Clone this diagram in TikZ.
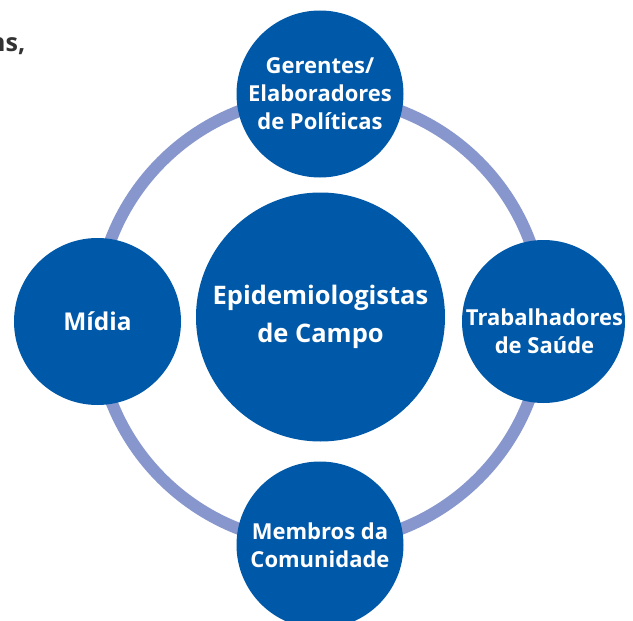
\documentclass[tikz,border=0pt]{standalone}
\usepackage{fontspec}
\setmainfont{Open Sans}
\definecolor{dblue}{HTML}{0058A8}
\definecolor{ring}{HTML}{8796CD}
\definecolor{txtgray}{HTML}{333333}
\begin{document}
\begin{tikzpicture}[x=1pt,y=-1pt,
  outer/.style={circle,fill=dblue,minimum size=167pt,inner sep=0pt,text=white,align=center,font=\bfseries\fontsize{22}{28}\selectfont},
  center/.style={circle,fill=dblue,minimum size=249pt,inner sep=0pt,text=white,align=center,font=\bfseries\fontsize{25.5}{38}\selectfont}]
\useasboundingbox (0,0) rectangle (633,621);
\coordinate (o) at (320,320);
\draw[ring,line width=12pt] (o) circle (224);
\node[center] (c) at (320.5,317) {Epidemiologistas\\de Campo};
\node[outer] (top) at (320,94) {Gerentes/\\Elaboradores\\de Políticas};
\node[outer,font=\bfseries\fontsize{24.5}{28}\selectfont] (left) at (97.5,321.5) {Mídia};
\node[outer,minimum size=163pt] (right) at (543.5,321.5) {};
\node[text=white,align=center,font=\bfseries\fontsize{22}{28}\selectfont] (rightlbl) at (544.5,331) {Trabalhadores\\de Saúde};
\node[outer] (bottom) at (320,545) {Membros da\\Comunidade};
\node[anchor=base west,inner sep=0pt,text=txtgray,font=\bfseries\fontsize{25}{30}\selectfont] (frag) at (-11,52) {ns,};
\end{tikzpicture}
\end{document}
